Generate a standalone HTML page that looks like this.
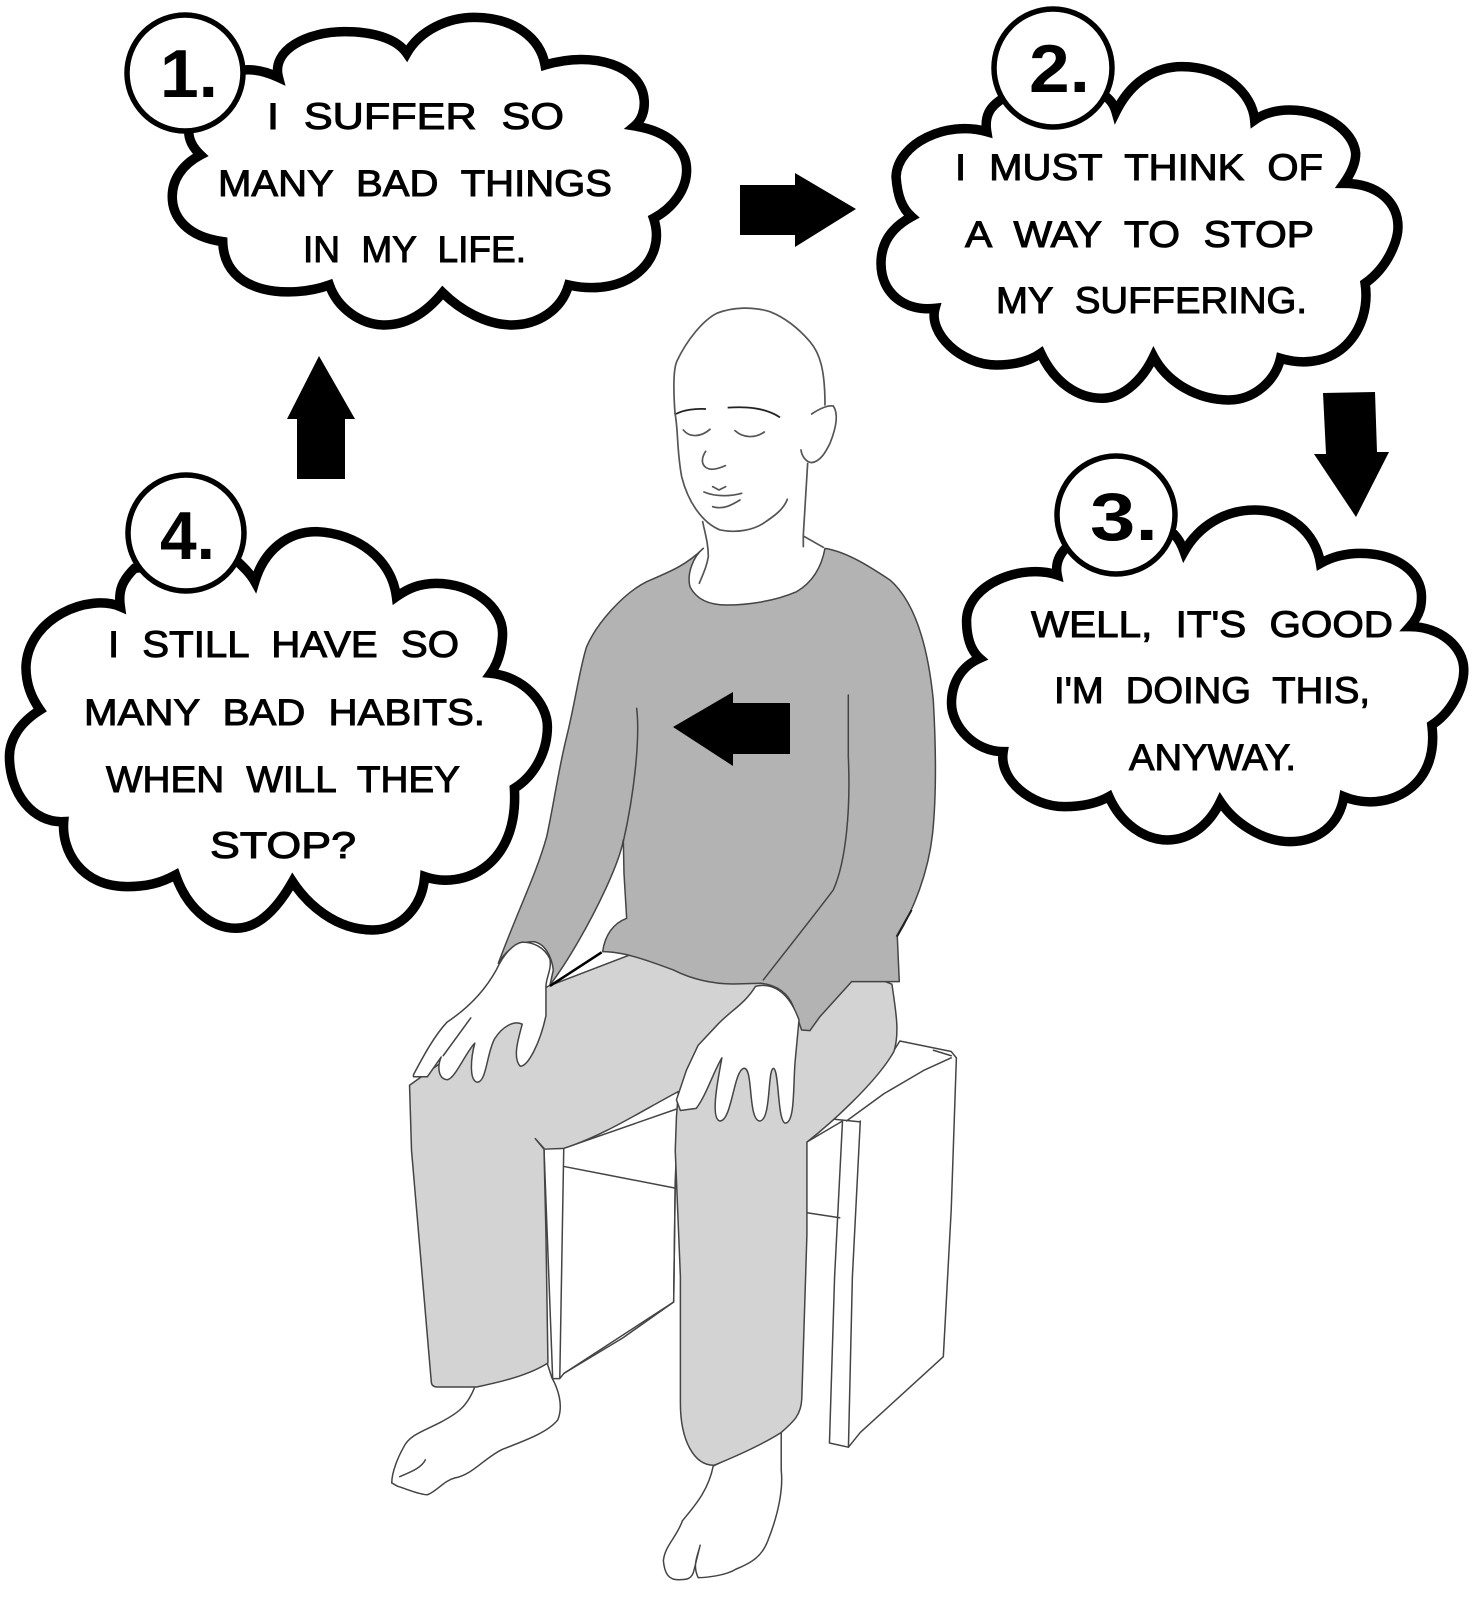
<!DOCTYPE html>
<html><head><meta charset="utf-8">
<style>
html,body{margin:0;padding:0;background:#fff}
svg{display:block}
svg *{vector-effect:non-scaling-stroke}
.cloud{fill:#fff;stroke:#000;stroke-width:9.5;stroke-linejoin:miter;stroke-miterlimit:5}
.circ{fill:#fff;stroke:#000;stroke-width:5.5}
.t{font-family:"Liberation Sans",sans-serif;font-size:37px;word-spacing:11px;fill:#000;stroke:#000;stroke-width:1;text-anchor:start}
.n{font-family:"Liberation Sans",sans-serif;font-weight:bold;font-size:68px;fill:#000}
.l{fill:none;stroke:#444;stroke-width:1.5;stroke-linejoin:round;stroke-linecap:round}
.w{fill:#fff;stroke:#444;stroke-width:1.5;stroke-linejoin:round}
.h{fill:none;stroke:#555;stroke-width:1.7;stroke-linecap:round;stroke-linejoin:round}
</style></head>
<body>
<svg width="1477" height="1600" viewBox="0 0 1477 1600" xmlns="http://www.w3.org/2000/svg">
<rect width="1477" height="1600" fill="#fff"/>

<!-- stool and feet -->
<g transform="translate(370,940) scale(.3954,.4209)">
<path class="w" d="M1340,240 L1470,265 L1483,280 L1470,640 L1450,990 L1240,1170 L1210,1205 L1162,1195 L1175,800 L1195,430 L1105,480 L1300,300Z"/>
<path class="l" d="M1240,430 L1220,800 L1210,1205 M1205,430 L1300,365 L1400,310 L1470,280 M1165,425 L1240,432 M1105,648 L1188,660 M1425,262 L1470,275"/>
<path class="w" d="M440,495 L490,495 L780,400 L772,570 L768,860 L490,1030 L480,1042 L462,1042Z"/>
<path class="l" d="M490,495 L480,1040 M490,538 L600,558 L785,592 M772,570 L768,860 L640,945 L490,1030"/>
<path class="w" d="M265,1062 C245,1110 220,1125 180,1145 C140,1165 100,1175 85,1205 C70,1230 55,1265 55,1290 L70,1298 C95,1305 125,1318 145,1318 C170,1310 185,1285 215,1278 C260,1270 290,1230 335,1210 C390,1190 450,1170 475,1140 C490,1105 475,1065 460,1040 L448,1005Z"/>
<path class="l" d="M75,1275 C100,1265 130,1255 140,1235"/>
<path class="w" d="M868,1250 C855,1310 820,1345 790,1380 C775,1420 745,1440 742,1475 C745,1505 755,1520 780,1520 C800,1520 815,1520 820,1495 L835,1438 C828,1465 815,1485 830,1515 C850,1515 900,1510 925,1495 C965,1480 990,1465 1005,1430 C1035,1360 1045,1300 1040,1260 L1040,1170Z"/>

<!-- trousers -->
<path d="M100,345 L105,500 L125,720 L155,1050 Q156,1062 170,1062 L270,1062 C330,1050 400,1035 450,1005 L445,700 L440,495 L418,472 L440,497 L490,495 C590,465 680,410 780,360 L775,420 L772,500 L785,800 L785,1100 C785,1190 820,1248 870,1248 C930,1225 990,1200 1040,1170 C1070,1145 1090,1130 1092,1090 L1105,700 L1105,480 C1160,440 1280,340 1325,265 C1340,220 1330,170 1320,105 L1200,60 L700,20 L450,110Z" fill="#d3d3d3" stroke="#444" stroke-width="1.5" stroke-linejoin="round"/>
</g>

<!-- shirt -->
<g transform="translate(480,540) scale(.3333)">
<path fill="#b3b3b3" stroke="#444" stroke-width="1.5" stroke-linejoin="round" d="M670,25 C620,75 570,95 500,125 C430,160 350,250 320,320 C300,380 285,490 260,590 C235,690 220,800 200,890 C170,1000 110,1120 55,1270 C80,1225 120,1205 160,1205 C195,1210 215,1250 220,1290 L210,1335 C260,1270 330,1150 380,1040 C405,985 425,930 430,900 L432,1000 L440,1135 C400,1150 375,1185 368,1235 C430,1235 500,1260 580,1290 C640,1320 700,1332 760,1332 L845,1330 C890,1335 925,1360 940,1400 L965,1470 L990,1472 L1020,1430 L1115,1325 L1258,1325 L1252,1190 C1300,1110 1345,1000 1358,880 C1370,760 1368,620 1360,480 C1345,330 1310,190 1230,120 C1170,80 1100,35 1035,25 C1025,80 1000,125 950,155 C880,185 800,195 740,195 C690,195 650,180 630,140 C620,100 640,50 670,25Z"/>
<path class="l" d="M470,505 C480,590 465,750 430,905 M1105,465 L1105,650 C1112,800 1100,960 1060,1050 C1000,1130 920,1230 850,1320"/>
<path d="M210,1338 L365,1237" stroke="#000" stroke-width="2.5" fill="none"/>
<path d="M1250,1190 L1295,1110" stroke="#222" stroke-width="2" fill="none"/>
</g>

<!-- hands -->
<g transform="translate(370,940) scale(.3954,.4209)">
<path class="w" d="M110,325 L145,325 L180,278 C170,300 172,330 195,332 C215,330 240,270 265,245 C255,280 250,335 272,338 C295,335 295,270 315,235 C335,205 365,190 385,200 C375,235 360,280 380,300 C400,300 430,245 445,180 L445,110 C445,90 460,70 455,45 C440,15 410,5 385,5 C365,8 340,30 320,70 C285,130 235,170 195,195 C160,230 130,285 110,320Z"/>
<path class="l" d="M185,275 L255,185"/>
<path class="w" d="M975,110 C1020,100 1060,125 1085,190 L1075,290 C1070,350 1075,435 1050,435 C1030,430 1035,305 1020,305 C1005,310 1015,430 985,430 C955,425 970,300 945,305 C920,310 915,430 885,430 C860,425 880,330 890,280 C870,310 850,370 825,400 L785,405 L775,380 L800,310 L830,250 L880,200 C910,170 950,150 975,110Z"/>
</g>

<!-- head -->
<g transform="translate(640,290) scale(.3333)">
<path fill="#fff" stroke="none" d="M105,370 C100,300 100,240 110,215 C140,150 190,90 230,70 C280,50 340,50 390,65 C440,85 480,120 510,155 C540,190 555,240 555,345 L580,348 C595,370 590,410 570,460 C555,490 540,515 503,520 L490,735 L540,770 L200,775 L188,695 C145,640 115,420 105,370Z"/>
<path class="h" d="M105,370 C100,300 100,240 110,215 C140,150 190,90 230,70 C280,50 340,50 390,65 C440,85 480,120 510,155 C540,190 555,240 555,345"/>
<path class="h" d="M105,370 C115,420 110,480 125,560 C145,640 190,700 240,720 C290,730 340,720 370,700 C400,680 430,660 442,628"/>
<path class="h" d="M515,372 C540,355 565,345 580,348 C595,370 590,410 570,460 C555,490 540,515 515,518 C495,515 485,495 483,480"/>
<path class="h" d="M503,520 L490,735 L490,770 M490,738 L550,772 M188,695 C195,730 205,760 205,800 C200,830 190,850 178,880"/>
<path d="M108,372 C130,360 165,355 198,357 M263,353 C310,350 370,350 420,382" fill="none" stroke="#222" stroke-width="1.8"/>
<path class="h" d="M130,420 C150,445 185,440 210,418 M285,422 C310,445 345,445 373,426 M197,484 C180,510 185,535 215,538 C230,538 245,532 256,527 M192,606 C225,620 270,620 305,610 M218,590 L237,600 L257,590 M218,650 C250,660 275,645 300,630"/>
</g>

<!-- cloud 1 -->
<g transform="scale(.4719,.3333)">
<path class="cloud" d="M505,212 C530,205 560,212 590,232 C575,150 650,95 730,95 C790,95 840,115 862,160 C890,90 950,52 1005,52 C1090,52 1145,115 1155,195 C1260,150 1360,200 1365,300 C1367,330 1360,360 1345,378 C1420,395 1455,450 1455,510 C1455,570 1425,625 1385,655 C1415,780 1330,895 1205,855 C1190,930 1140,975 1085,975 C1030,975 975,930 938,878 C905,935 865,975 815,975 C765,975 715,925 698,855 C620,895 475,890 472,725 C395,710 365,650 365,590 C365,540 385,495 425,465 C410,445 400,420 400,395Z"/>
</g>
<circle class="circ" cx="185" cy="73" r="58"/>
<text class="n" x="160" y="97" textLength="58" lengthAdjust="spacingAndGlyphs">1.</text>
<text class="t" x="267" y="129" textLength="297" lengthAdjust="spacingAndGlyphs">I SUFFER SO</text>
<text class="t" x="218" y="196" textLength="394" lengthAdjust="spacingAndGlyphs">MANY BAD THINGS</text>
<text class="t" x="303" y="262" textLength="223" lengthAdjust="spacingAndGlyphs">IN MY LIFE.</text>

<!-- cloud 2 -->
<g transform="translate(740,0) scale(.47,.3333)">
<path class="cloud" d="M560,295 C530,320 520,350 525,395 C440,360 335,430 332,530 C335,590 345,625 365,650 C300,700 300,770 300,790 C300,880 350,935 415,925 C400,1000 470,1095 545,1095 C590,1095 620,1080 640,1060 C670,1150 720,1195 770,1195 C820,1195 860,1130 880,1070 C910,1150 975,1200 1040,1200 C1095,1200 1140,1140 1150,1075 C1270,1125 1345,990 1330,850 C1380,800 1400,720 1400,680 C1400,610 1360,550 1285,550 C1305,510 1310,480 1310,460 C1305,390 1240,330 1170,330 C1140,330 1115,340 1095,360 C1090,280 1030,200 940,200 C880,200 830,250 800,335 C795,310 785,295 770,280Z"/>
</g>
<circle class="circ" cx="1053" cy="68" r="59"/>
<text class="n" x="1029" y="92" textLength="61" lengthAdjust="spacingAndGlyphs">2.</text>
<text class="t" x="955" y="180" textLength="368" lengthAdjust="spacingAndGlyphs">I MUST THINK OF</text>
<text class="t" x="965" y="247" textLength="349" lengthAdjust="spacingAndGlyphs">A WAY TO STOP</text>
<text class="t" x="996" y="313" textLength="311" lengthAdjust="spacingAndGlyphs">MY SUFFERING.</text>

<!-- cloud 3 -->
<g transform="translate(740,460) scale(.47,.3333)">
<path class="cloud" d="M700,255 C680,280 670,310 675,345 C600,310 485,370 482,480 C482,530 490,570 510,595 C470,620 450,670 450,730 C450,800 500,875 560,875 C550,960 620,1040 690,1040 C730,1040 760,1030 785,1010 C810,1090 860,1140 910,1140 C960,1140 1000,1090 1022,1025 C1050,1085 1110,1145 1170,1145 C1230,1145 1275,1095 1285,1010 C1370,1060 1490,990 1472,795 C1510,760 1540,690 1540,630 C1540,560 1490,500 1425,500 C1450,460 1450,430 1450,410 C1450,340 1400,280 1320,280 C1290,280 1260,290 1235,310 C1225,220 1170,150 1095,150 C1030,150 975,200 945,275 C940,255 935,240 925,225Z"/>
</g>
<circle class="circ" cx="1116" cy="515" r="59"/>
<text class="n" x="1090" y="540" textLength="68" lengthAdjust="spacingAndGlyphs">3.</text>
<text class="t" x="1031" y="637" textLength="362" lengthAdjust="spacingAndGlyphs">WELL, IT'S GOOD</text>
<text class="t" x="1054" y="703" textLength="316" lengthAdjust="spacingAndGlyphs">I'M DOING THIS,</text>
<text class="t" x="1129" y="770" textLength="167" lengthAdjust="spacingAndGlyphs">ANYWAY.</text>

<!-- cloud 4 -->
<g transform="translate(0,460) scale(.4719,.3333)">
<path class="cloud" d="M285,325 C260,360 250,390 255,440 C190,400 60,470 55,620 C55,670 65,710 85,750 C40,790 20,840 20,890 C20,1000 70,1090 135,1085 C130,1170 170,1280 270,1280 C310,1280 340,1270 372,1245 C395,1340 445,1405 500,1405 C550,1405 590,1340 620,1265 C650,1330 710,1410 790,1410 C850,1410 895,1340 900,1250 C980,1290 1100,1220 1090,985 C1130,950 1160,880 1160,800 C1160,730 1110,650 1040,640 C1060,600 1065,550 1065,520 C1065,440 1000,370 925,370 C890,370 865,385 840,410 C830,300 760,220 670,215 C610,215 560,270 540,365 C530,340 515,320 500,300Z"/>
</g>
<circle class="circ" cx="186" cy="533" r="58"/>
<text class="n" x="160" y="559" textLength="55" lengthAdjust="spacingAndGlyphs">4.</text>
<text class="t" x="108" y="657" textLength="351" lengthAdjust="spacingAndGlyphs">I STILL HAVE SO</text>
<text class="t" x="84" y="725" textLength="401" lengthAdjust="spacingAndGlyphs">MANY BAD HABITS.</text>
<text class="t" x="106" y="792" textLength="354" lengthAdjust="spacingAndGlyphs">WHEN WILL THEY</text>
<text class="t" x="210" y="858" textLength="146" lengthAdjust="spacingAndGlyphs">STOP?</text>

<!-- arrows -->
<path d="M319,356 L355,419 L345,419 L345,479 L297,479 L297,419 L287,419Z" fill="#000"/>
<path d="M740,185 L795,185 L795,173 L856,209 L795,247 L795,235 L740,235Z" fill="#000"/>
<path d="M1323,393 L1375,392 L1377,452 L1389,452 L1356,517 L1314,454 L1326,454Z" fill="#000"/>
<path d="M673,727 L733,692 L733,703 L790,703 L790,754 L733,754 L733,766Z" fill="#000"/>
</svg>
</body></html>
